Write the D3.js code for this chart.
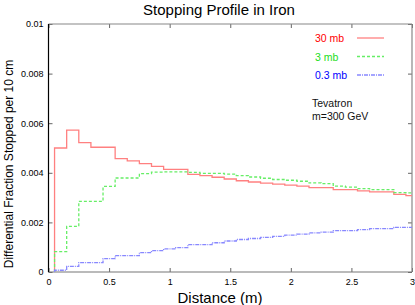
<!DOCTYPE html>
<html lang="en">
<head>
<meta charset="UTF-8">
<title>Stopping Profile in Iron</title>
<script src="https://d3js.org/d3.v7.min.js"></script>
<style>
    body { margin: 0; background: #fff; }
    svg { font-family: "Liberation Sans", Arial, sans-serif; }
    .tick text { font-size: 9px; fill: #000; }
</style>
</head>
<body>
<div id="chart"></div>
<script>
    // left edges of 0.1 m bins (last bin ends at 3 m)
    var binStarts = d3.range(30).map(function (i) { return +(0.05 + i * 0.1).toFixed(2); });
    var binEnd = 3.0;

    // values in units of 1e-3
    var red30 = [5.00, 5.72, 5.22, 5.03, 5.03, 4.57, 4.48, 4.37, 4.26, 4.14,
                 4.14, 3.94, 3.89, 3.82, 3.75, 3.68, 3.63, 3.58, 3.54, 3.50,
                 3.46, 3.40, 3.40, 3.32, 3.32, 3.27, 3.23, 3.23, 3.13, 3.08];
    var green3 = [0.82, 1.84, 2.85, 2.85, 3.45, 3.79, 3.79, 3.97, 4.03, 4.04,
                  4.04, 4.02, 3.98, 3.98, 3.95, 3.89, 3.83, 3.78, 3.73, 3.70,
                  3.66, 3.59, 3.56, 3.46, 3.42, 3.36, 3.32, 3.32, 3.20, 3.19];
    var blue03 = [0.07, 0.23, 0.38, 0.38, 0.54, 0.66, 0.66, 0.78, 0.86, 0.93,
                  0.98, 1.10, 1.10, 1.18, 1.25, 1.31, 1.35, 1.40, 1.44, 1.49,
                  1.53, 1.58, 1.61, 1.67, 1.67, 1.71, 1.75, 1.75, 1.80, 1.80];

    var xTicks = [0, 0.5, 1, 1.5, 2, 2.5, 3];
    var yTicks = [0, 0.002, 0.004, 0.006, 0.008, 0.01];

    var series = [
        { name: "30 mb", values: red30, line: "#ff8080", text: "#ff0000", dash: null },
        { name: "3 mb", values: green3, line: "#66ee66", text: "#22dd22", dash: "3,2" },
        { name: "0.3 mb", values: blue03, line: "#8888ff", text: "#0000ff", dash: "4,1,1,1" }
    ];

    var W = 415, H = 305;
    var margin = { top: 24, right: 3, bottom: 33, left: 48.5 };
    var width = W - margin.left - margin.right;
    var height = H - margin.top - margin.bottom;

    var x = d3.scaleLinear().domain([0, 3]).range([0, width]);
    var y = d3.scaleLinear().domain([0, 0.01]).range([height, 0]);

    var svg = d3.select("#chart").append("svg")
        .attr("width", W)
        .attr("height", H);

    var g = svg.append("g")
        .attr("transform", "translate(" + margin.left + "," + margin.top + ")");

    // axes, ticks inward
    var xAxis = d3.axisBottom(x).tickValues(xTicks).tickSize(-4).tickPadding(7)
        .tickFormat(function (d) { return d3.format("")(d); });
    var yAxis = d3.axisLeft(y).tickValues(yTicks).tickSize(-4).tickPadding(5)
        .tickFormat(function (d) { return d === 0 ? "0" : d3.format("")(+d.toFixed(3)); });

    var gx = g.append("g").attr("transform", "translate(0," + height + ")").call(xAxis);
    var gy = g.append("g").call(yAxis);
    var gxt = g.append("g").call(d3.axisTop(x).tickValues(xTicks).tickSize(-4).tickFormat(""));
    var gyr = g.append("g").attr("transform", "translate(" + width + ",0)")
        .call(d3.axisRight(y).tickValues(yTicks).tickSize(-4).tickFormat(""));

    [gx, gy, gxt, gyr].forEach(function (a) {
        a.select(".domain").remove();
        a.selectAll(".tick line").attr("stroke", "#666");
    });

    // frame
    g.append("line").attr("x1", 0).attr("x2", width).attr("y1", 0).attr("y2", 0)
        .attr("stroke", "#888").attr("stroke-width", 1.2);
    g.append("line").attr("x1", width).attr("x2", width).attr("y1", 0).attr("y2", height)
        .attr("stroke", "#888").attr("stroke-width", 1.2);
    g.append("line").attr("x1", 0).attr("x2", width).attr("y1", height).attr("y2", height)
        .attr("stroke", "#777").attr("stroke-width", 1.2);
    g.append("line").attr("x1", 0).attr("x2", 0).attr("y1", 0).attr("y2", height)
        .attr("stroke", "#000").attr("stroke-width", 1.2);

    // step histograms
    var stepLine = d3.line()
        .x(function (d) { return x(d[0]); })
        .y(function (d) { return y(d[1]); })
        .curve(d3.curveStepAfter);

    series.forEach(function (s) {
        var pts = [[binStarts[0], 0]];
        binStarts.forEach(function (b, i) { pts.push([b, s.values[i] / 1000]); });
        pts.push([binEnd, s.values[s.values.length - 1] / 1000]);
        g.append("path")
            .attr("d", stepLine(pts))
            .attr("fill", "none")
            .attr("stroke", s.line)
            .attr("stroke-width", 1.3)
            .attr("stroke-dasharray", s.dash);
    });

    // legend
    var legend = svg.append("g");
    series.forEach(function (s, i) {
        var ly = 38 + i * 18.5;
        legend.append("text")
            .attr("x", 315).attr("y", ly + 4)
            .attr("font-size", 10.5)
            .attr("fill", s.text)
            .text(s.name);
        legend.append("line")
            .attr("x1", 357).attr("x2", 384).attr("y1", ly).attr("y2", ly)
            .attr("stroke", s.line).attr("stroke-width", 1.3)
            .attr("stroke-dasharray", s.dash);
    });

    svg.append("text").attr("x", 312).attr("y", 107)
        .attr("font-size", 10.5).attr("fill", "#111").text("Tevatron");
    svg.append("text").attr("x", 312).attr("y", 120)
        .attr("font-size", 10.5).attr("fill", "#111").text("m=300 GeV");

    // titles
    svg.append("text")
        .attr("x", 219).attr("y", 15)
        .attr("text-anchor", "middle")
        .attr("font-size", 15)
        .text("Stopping Profile in Iron");

    svg.append("text")
        .attr("x", 220).attr("y", 303)
        .attr("text-anchor", "middle")
        .attr("font-size", 15)
        .text("Distance (m)");

    svg.append("text")
        .attr("transform", "translate(13,164) rotate(-90)")
        .attr("text-anchor", "middle")
        .attr("font-size", 12)
        .text("Differential Fraction Stopped per 10 cm");
</script>
</body>
</html>
